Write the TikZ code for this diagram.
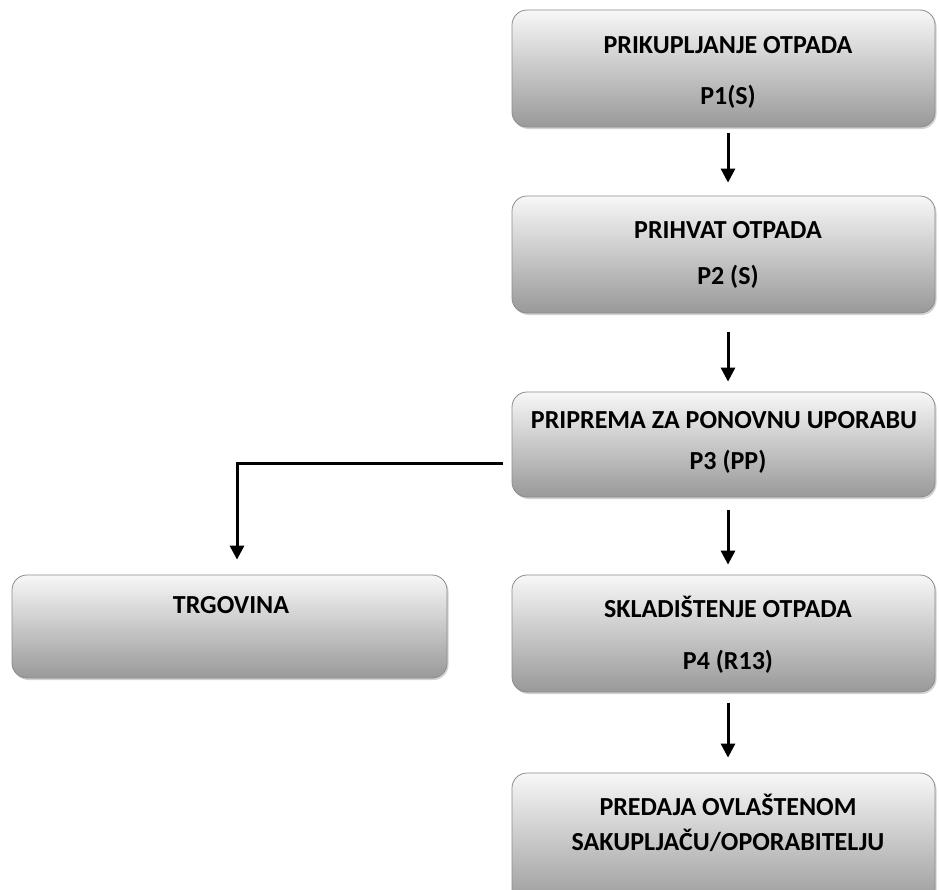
\documentclass[tikz,border=0pt]{standalone}
\usepackage{fontspec}
\setmainfont{Carlito}
\usetikzlibrary{arrows.meta,shadows,calc}
\tikzset{
  procbox/.style={draw=black!45, line width=0.8pt, rounded corners=15pt,
    top color=white!97!black, bottom color=black!40,
    drop shadow={opacity=0.35, shadow xshift=1.5pt, shadow yshift=-2pt},
    inner sep=0pt},
  lbl/.style={font=\bfseries\fontsize{26}{30}\selectfont, text=black, inner sep=0pt, anchor=center},
  arr/.style={line width=3pt, -{Triangle[width=14pt,length=14pt]}}
}
\begin{document}
\begin{tikzpicture}[x=1pt,y=1pt]
\useasboundingbox (0,0) rectangle (939,-889);
\clip (0,0) rectangle (939,-889);
\fill[white] (0,0) rectangle (939,-889);
% boxes
\node[procbox, minimum width=423pt, minimum height=117pt] (b1) at (723.5,-68.5) {};
\node[procbox, minimum width=423pt, minimum height=117pt] (b2) at (723.5,-254.5) {};
\node[procbox, minimum width=423pt, minimum height=105pt] (b3) at (723.5,-444.5) {};
\node[procbox, minimum width=423pt, minimum height=117pt] (b4) at (723.5,-633.5) {};
\node[procbox, minimum width=423pt, minimum height=135pt] (b5) at (723.5,-840.5) {};
\node[procbox, minimum width=435pt, minimum height=103pt] (b6) at (229.5,-626.5) {};
% texts
\node[lbl] (t1a) at (728,-45) {PRIKUPLJANJE OTPADA};
\node[lbl] (t1b) at (728,-97) {P1(S)};
\node[lbl] (t2a) at (728,-230) {PRIHVAT OTPADA};
\node[lbl] (t2b) at (728,-277) {P2 (S)};
\node[lbl] (t3a) at (724,-420) {PRIPREMA ZA PONOVNU UPORABU};
\node[lbl] (t3b) at (728,-462) {P3 (PP)};
\node[lbl] (t4a) at (728,-607) {SKLADIŠTENJE OTPADA};
\node[lbl] (t4b) at (728,-662) {P4 (R13)};
\node[lbl] (t5a) at (728,-805) {PREDAJA OVLAŠTENOM};
\node[lbl] (t5b) at (728,-840) {SAKUPLJAČU/OPORABITELJU};
\node[lbl] (t6) at (231,-605) {TRGOVINA};
% arrows
\draw[arr] ($(b1.south)+(4.5,-6)$) -- ($(b2.north)+(4.5,13)$);
\draw[arr] ($(b2.south)+(4.5,-19)$) -- ($(b3.north)+(4.5,10)$);
\draw[arr] ($(b3.south)+(4.5,-13)$) -- ($(b4.north)+(4.5,10)$);
\draw[arr] ($(b4.south)+(4.5,-11)$) -- ($(b5.north)+(4.5,15)$);
\draw[arr] ($(b3.west)+(-9,-18.5)$) -| ($(b6.north)+(7.5,15)$);
\end{tikzpicture}
\end{document}
